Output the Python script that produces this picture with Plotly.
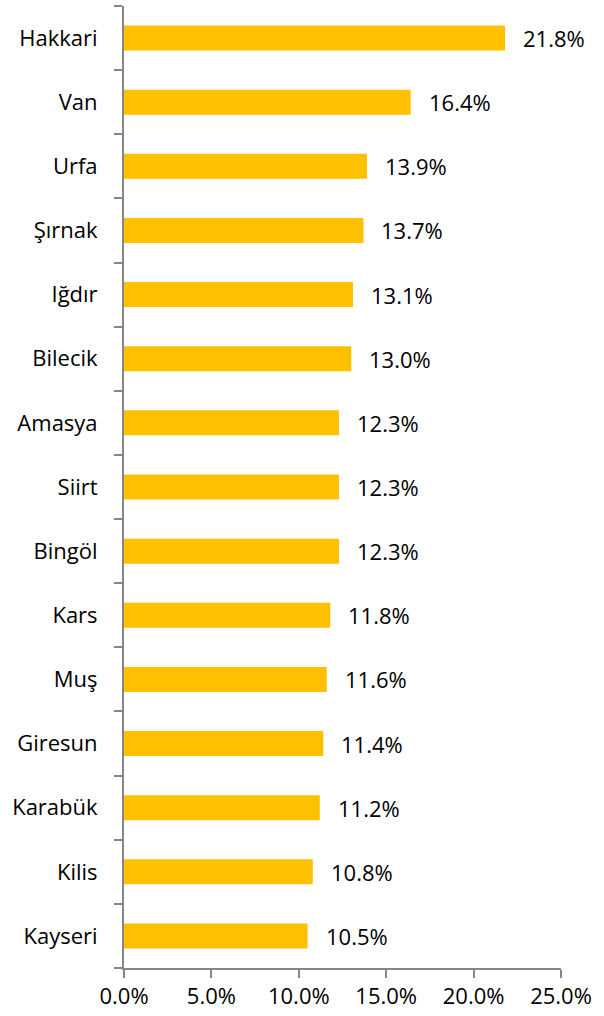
import plotly.graph_objects as go

provinces = ["Hakkari", "Van", "Urfa", "Şırnak", "Iğdır", "Bilecik", "Amasya", "Siirt",
             "Bingöl", "Kars", "Muş", "Giresun", "Karabük", "Kilis", "Kayseri"]
rates = [21.8, 16.4, 13.9, 13.7, 13.1, 13.0, 12.3, 12.3, 12.3, 11.8, 11.6, 11.4, 11.2, 10.8, 10.5]
x_ticks = [0, 5, 10, 15, 20, 25]
x_tick_labels = ["0.0%", "5.0%", "10.0%", "15.0%", "20.0%", "25.0%"]

FONT = "'Open Sans', sans-serif"
FS = 22
AXIS = "#868686"

fig = go.Figure()
fig.add_trace(go.Bar(
    y=provinces, x=rates, orientation="h",
    marker=dict(color="#FFC000", line=dict(width=0)),
    hoverinfo="skip",
))
for p, r in zip(provinces, rates):
    fig.add_annotation(x=r, y=p, text=f"{r:.1f}%", showarrow=False,
                       xanchor="left", xshift=16,
                       font=dict(family=FONT, size=FS, color="#000000"))

fig.update_layout(
    width=604, height=1016,
    margin=dict(l=124, r=43, t=6, b=48),
    plot_bgcolor="white", paper_bgcolor="white",
    bargap=0.61, showlegend=False,
    font=dict(family=FONT, size=FS, color="#000000"),
    xaxis=dict(range=[0, 25], tickvals=x_ticks, ticktext=x_tick_labels, automargin=False,
               showgrid=False, zeroline=False, showline=True, linecolor=AXIS, linewidth=2,
               ticks="outside", ticklen=8, tickcolor=AXIS, tickwidth=2,
               tickfont=dict(family=FONT, size=FS, color="#000000")),
    yaxis=dict(categoryorder="array", categoryarray=provinces[::-1], automargin=False,
               showgrid=False, zeroline=False, showline=True, linecolor=AXIS, linewidth=2,
               ticks="outside", ticklen=8, tickcolor=AXIS, tickwidth=2,
               tickson="boundaries", ticklabelstandoff=20,
               tickfont=dict(family=FONT, size=FS, color="#000000")),
)

fig.write_html("out.html", config={"displayModeBar": False},
               post_script="document.body.style.margin='0';")
